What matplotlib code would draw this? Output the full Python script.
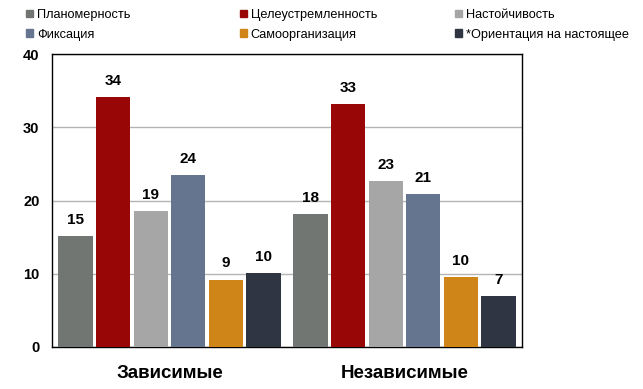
import numpy as np
import matplotlib.pyplot as plt
from matplotlib.patches import Patch

plt.rcParams['font.family'] = ['Liberation Sans', 'DejaVu Sans']

groups = ["Зависимые", "Независимые"]
series = ["Планомерность", "Целеустремленность", "Настойчивость",
          "Фиксация", "Самоорганизация", "*Ориентация на настоящее"]
dependent = [15.2, 34.1, 18.6, 23.5, 9.2, 10.1]
independent = [18.1, 33.2, 22.7, 20.9, 9.5, 7.0]
colors = ["#717672", "#990606", "#A6A6A6", "#66758F", "#D08519", "#2F3542"]

values = np.array([dependent, independent])

fig = plt.figure(figsize=(6.43, 3.89), dpi=100)
ax = fig.add_axes([52 / 643, 1 - 347 / 389, 470 / 643, 293 / 389])

x = np.arange(len(groups))
step = 0.16
width = 0.145
for i, (name, col) in enumerate(zip(series, colors)):
    pos = x + (i - 2.5) * step
    bars = ax.bar(pos, values[:, i], width=width, color=col, label=name, zorder=3)
    for b, v in zip(bars, values[:, i]):
        ax.text(b.get_x() + b.get_width() / 2, v + 2.2, f"{round(v):d}",
                ha="center", va="center", fontsize=11, fontweight="bold")

ax.set_xlim(-0.5, 1.5)
ax.set_ylim(0, 40)
ax.set_yticks([0, 10, 20, 30, 40])
ax.yaxis.grid(True, color="#B4B4B4", linewidth=1, zorder=0)
ax.tick_params(axis="y", length=0, labelsize=10.5, pad=9)
for lab in ax.get_yticklabels():
    lab.set_fontweight("bold")
ax.set_xticks(x)
ax.set_xticklabels(groups, fontsize=13.5, fontweight="bold")
ax.tick_params(axis="x", length=0, pad=13)
for s in ax.spines.values():
    s.set_color("black")
    s.set_linewidth(1)

# legend: three columns of two entries each
col_x = [26, 240, 455]
for c in range(3):
    idx = [c, c + 3]
    fig.legend([Patch(color=colors[k]) for k in idx], [series[k] for k in idx],
               loc="upper left", bbox_to_anchor=(col_x[c] / 643, 1 - 9 / 389),
               frameon=False, fontsize=9.2, handlelength=0.55, handleheight=0.55,
               handletextpad=0.3, labelspacing=0.6, borderaxespad=0,
               borderpad=0)

fig.savefig("out.png", dpi=100)
